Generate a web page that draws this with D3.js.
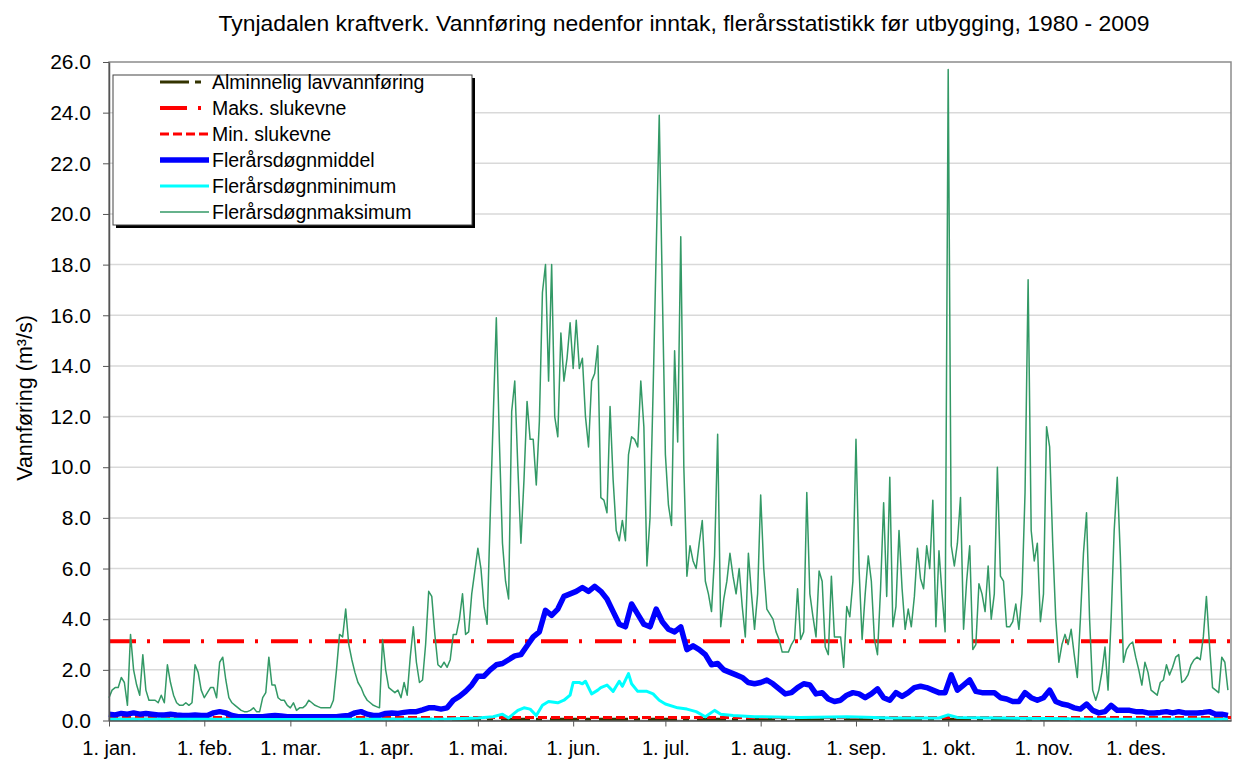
<!DOCTYPE html>
<html>
<head>
<meta charset="utf-8">
<script src="https://cdn.jsdelivr.net/npm/d3@7"></script>
<style>
  body { margin: 0; background: #fff; }
  text { font-family: Arial, "Liberation Sans", sans-serif; fill: #000; }
</style>
</head>
<body>
<svg id="chart" width="1233" height="760"></svg>
<script>
const title = 'Tynjadalen kraftverk. Vannføring nedenfor inntak, flerårsstatistikk før utbygging, 1980 - 2009';
const yLabel = 'Vannføring (m³/s)';

const monthLabels = ['1. jan.', '1. feb.', '1. mar.', '1. apr.', '1. mai.', '1. jun.',
  '1. jul.', '1. aug.', '1. sep.', '1. okt.', '1. nov.', '1. des.'];
const monthStarts = [0, 31, 59, 90, 120, 151, 181, 212, 243, 273, 304, 334];
const yTicks = [0, 2, 4, 6, 8, 10, 12, 14, 16, 18, 20, 22, 24, 26];

// constant levels (m3/s)
const lavvannforing = 0.05;
const maksSlukevne = 3.13;
const minSlukevne = 0.12;

// Flerårsdøgnmaksimum, one value per day
const dailyMax = [
  // jan
  0.9, 1.2, 1.3, 1.3, 1.7, 1.5, 0.6, 3.4, 2.0, 1.4, 1.0, 2.6, 1.2, 0.8, 0.8, 0.8, 0.7, 1.0, 0.7, 2.2, 1.5, 1.0, 0.7, 0.6, 0.6, 0.7, 0.6, 0.7, 2.2, 1.9, 1.2,
  // feb
  0.9, 1.1, 1.3, 1.3, 0.9, 2.3, 2.5, 1.6, 0.9, 0.7, 0.6, 0.5, 0.4, 0.35, 0.35, 0.4, 0.5, 0.35, 0.35, 0.9, 1.1, 2.5, 1.4, 1.4, 0.9, 0.8, 0.8, 0.6,
  // mar
  0.5, 0.7, 0.4, 0.5, 0.5, 0.6, 0.8, 0.7, 0.6, 0.55, 0.5, 0.5, 0.5, 0.5, 0.8, 2.0, 3.4, 3.3, 4.4, 3.0, 2.4, 1.9, 1.5, 1.3, 1.0, 0.8, 0.7, 0.6, 0.55, 0.5, 3.2,
  // apr
  2.0, 1.3, 1.2, 1.1, 1.2, 0.9, 1.5, 1.0, 2.5, 3.7, 2.3, 1.5, 1.6, 3.0, 5.1, 4.9, 3.4, 2.2, 2.1, 2.3, 2.1, 2.4, 3.4, 3.4, 4.0, 5.0, 3.4, 3.5, 5.0, 5.9,
  // mai
  6.8, 6.0, 4.5, 3.8, 8.0, 12.0, 15.9, 11.0, 7.0, 5.5, 4.8, 12.2, 13.4, 10.0, 7.0, 9.5, 12.6, 11.1, 11.1, 9.3, 11.8, 16.9, 18.0, 13.4, 18.0, 12.0, 11.2, 15.3, 13.4, 14.3, 15.7,
  // jun
  13.9, 15.8, 13.9, 14.3, 12.0, 10.8, 13.4, 13.7, 14.8, 8.8, 8.7, 8.2, 12.4, 9.5, 7.5, 7.1, 7.9, 7.1, 10.5, 11.2, 11.1, 10.8, 13.4, 11.6, 6.1, 8.0, 13.0, 18.5, 23.9, 17.0,
  // jul
  10.5, 8.5, 7.7, 14.6, 11.0, 19.1, 10.0, 5.7, 6.9, 6.3, 6.0, 7.0, 7.9, 5.5, 5.0, 4.3, 6.5, 11.3, 3.7, 4.8, 5.5, 6.6, 5.7, 5.0, 6.0, 4.5, 3.3, 6.6, 5.0, 3.6, 5.0,
  // aug
  8.9, 6.0, 4.4, 4.2, 4.0, 3.5, 3.2, 2.7, 2.7, 2.7, 3.0, 3.2, 5.2, 3.2, 3.5, 9.0, 5.0, 4.1, 3.3, 5.9, 5.5, 2.9, 2.6, 5.7, 3.3, 3.3, 3.3, 2.1, 4.5, 4.1, 5.5,
  // sep
  11.1, 6.0, 3.2, 5.0, 6.5, 5.5, 3.2, 2.6, 5.2, 8.6, 4.9, 9.6, 3.7, 4.5, 7.5, 5.2, 3.6, 4.4, 3.7, 4.9, 6.8, 5.6, 5.2, 6.9, 6.0, 8.7, 3.7, 6.7, 5.0, 3.5,
  // okt
  25.7, 6.9, 6.1, 7.0, 8.8, 3.6, 5.5, 6.9, 2.8, 3.0, 5.4, 5.0, 4.3, 6.1, 4.0, 5.0, 10.0, 5.7, 5.5, 3.7, 3.7, 3.9, 4.6, 3.6, 5.0, 9.0, 17.4, 7.5, 6.3, 7.0, 3.9,
  // nov
  5.0, 11.6, 10.8, 7.0, 4.0, 2.3, 3.0, 3.4, 3.0, 3.6, 2.6, 1.7, 4.0, 6.6, 8.2, 4.0, 1.2, 0.8, 1.2, 1.9, 2.9, 1.2, 4.0, 7.5, 9.6, 6.5, 2.3, 2.8, 3.0, 3.1,
  // des
  2.5, 2.0, 1.4, 2.3, 1.9, 1.2, 1.1, 1.0, 1.5, 1.6, 2.2, 1.8, 2.1, 2.5, 2.6, 1.5, 1.6, 1.8, 2.2, 2.4, 2.5, 2.4, 3.3, 4.9, 3.0, 1.3, 1.2, 1.1, 2.5, 2.3, 1.2
];

// Flerårsdøgnmiddel, read every second day (day 0, 2, 4 ... 364)
const meanEveryOtherDay = [
  0.25, 0.22, 0.28, 0.25, 0.3, 0.25, 0.28, 0.25, 0.22, 0.22, 0.25, 0.22, 0.2, 0.2, 0.22, 0.2,
  0.2, 0.3, 0.35, 0.3, 0.2, 0.15, 0.15, 0.15, 0.15, 0.15, 0.18, 0.2, 0.18, 0.15,
  0.15, 0.15, 0.15, 0.15, 0.15, 0.15, 0.15, 0.15, 0.18, 0.2, 0.3, 0.35, 0.25, 0.2, 0.2,
  0.28, 0.3, 0.28, 0.32, 0.35, 0.35, 0.42, 0.5, 0.5, 0.45, 0.5, 0.8, 0.95, 1.15, 1.4,
  1.75, 1.75, 2.0, 2.2, 2.25, 2.4, 2.55, 2.6, 2.95, 3.3, 3.5, 4.35, 4.15, 4.4, 4.9, 5.0,
  5.1, 5.25, 5.1, 5.3, 5.1, 4.8, 4.3, 3.8, 3.7, 4.6, 4.2, 3.8, 3.7, 4.4, 3.9,
  3.6, 3.5, 3.7, 2.8, 2.95, 2.8, 2.6, 2.2, 2.25, 2.0, 1.9, 1.8, 1.7, 1.5, 1.45,
  1.5, 1.6, 1.45, 1.25, 1.05, 1.1, 1.3, 1.45, 1.4, 1.05, 1.1, 0.85, 0.75, 0.8, 1.0, 1.1,
  1.05, 0.9, 1.05, 1.25, 0.9, 0.8, 1.1, 0.95, 1.1, 1.3, 1.35, 1.3, 1.2, 1.1, 1.1,
  1.8, 1.2, 1.4, 1.6, 1.15, 1.1, 1.1, 1.1, 0.9, 0.85, 0.75, 0.75, 1.1, 0.9, 0.8,
  0.9, 1.2, 0.75, 0.65, 0.6, 0.5, 0.45, 0.65, 0.4, 0.3, 0.35, 0.6, 0.4, 0.4, 0.4, 0.35,
  0.35, 0.3, 0.3, 0.32, 0.35, 0.3, 0.35, 0.3, 0.3, 0.3, 0.32, 0.35, 0.25, 0.25, 0.2
];

// Flerårsdøgnminimum, read at these days
const minDays = [0, 30, 60, 90, 110, 120, 125, 128, 130, 133, 135, 137, 139, 141, 143, 146, 148, 150, 151, 153,
  154, 155, 157, 159, 160, 162, 164, 165, 166, 167, 169, 170, 172, 175, 177, 179, 181, 185, 188, 191,
  194, 197, 199, 203, 210, 225, 240, 255, 270, 273, 276, 290, 305, 320, 340, 364];
const minValues = [0.05, 0.05, 0.04, 0.05, 0.06, 0.1, 0.15, 0.25, 0.1, 0.4, 0.5, 0.45, 0.2, 0.6, 0.75, 0.7, 0.8, 1.0, 1.5, 1.5,
  1.45, 1.55, 1.05, 1.2, 1.3, 1.4, 1.15, 1.35, 1.55, 1.35, 1.85, 1.45, 1.15, 1.15, 1.05, 0.8, 0.65, 0.5, 0.45, 0.35,
  0.15, 0.4, 0.25, 0.2, 0.15, 0.12, 0.15, 0.1, 0.1, 0.22, 0.12, 0.1, 0.08, 0.05, 0.05, 0.05];

const legendItems = [
  { name: 'Alminnelig lavvannføring', color: '#333300', width: 3, dash: '29,6,6,8' },
  { name: 'Maks. slukevne', color: '#ff0000', width: 4, dash: '27,11,3,13' },
  { name: 'Min. slukevne', color: '#ff0000', width: 3, dash: '9,4' },
  { name: 'Flerårsdøgnmiddel', color: '#0000ff', width: 5.5, dash: null },
  { name: 'Flerårsdøgnminimum', color: '#00ffff', width: 3, dash: null },
  { name: 'Flerårsdøgnmaksimum', color: '#339966', width: 1.5, dash: null },
];

function drawChart() {
  const svg = d3.select('#chart');
  const x = d3.scaleLinear().domain([0, 365]).range([109, 1231]);
  const y = d3.scaleLinear().domain([0, 26]).range([720.5, 62]);

  svg.append('rect').attr('width', 1233).attr('height', 760).attr('fill', '#fff');

  // gridlines
  svg.append('g')
    .selectAll('line')
    .data(yTicks.filter((d) => d > 0 && d < 26))
    .enter()
    .append('line')
    .attr('x1', x(0))
    .attr('x2', x(365))
    .attr('y1', (d) => y(d))
    .attr('y2', (d) => y(d))
    .attr('stroke', '#d9d9d9')
    .attr('stroke-width', 1.5);

  // plot frame
  svg.append('rect')
    .attr('x', x(0))
    .attr('y', y(26))
    .attr('width', x(365) - x(0))
    .attr('height', y(0) - y(26))
    .attr('fill', 'none')
    .attr('stroke', '#8c8c8c')
    .attr('stroke-width', 1.5);

  const line = d3.line().x((d) => x(d.day)).y((d) => y(d.value));

  const series = [
    { key: 0, points: [{ day: 0, value: lavvannforing }, { day: 365, value: lavvannforing }] },
    { key: 1, points: [{ day: 0, value: maksSlukevne }, { day: 365, value: maksSlukevne }] },
    { key: 2, points: [{ day: 0, value: minSlukevne }, { day: 365, value: minSlukevne }] },
    { key: 3, points: meanEveryOtherDay.map((v, i) => ({ day: i * 2, value: v })) },
    { key: 4, points: minDays.map((d, i) => ({ day: d, value: minValues[i] })) },
    { key: 5, points: dailyMax.map((v, i) => ({ day: i, value: v })) },
  ];

  svg.append('g')
    .selectAll('path')
    .data(series)
    .enter()
    .append('path')
    .attr('d', (d) => line(d.points))
    .attr('fill', 'none')
    .attr('stroke', (d) => legendItems[d.key].color)
    .attr('stroke-width', (d) => legendItems[d.key].width)
    .attr('stroke-dasharray', (d) => legendItems[d.key].dash)
    .attr('stroke-linejoin', 'round');

  // axes
  const yAxis = svg.append('g')
    .attr('transform', `translate(${x(0)},0)`)
    .call(d3.axisLeft(y).tickValues(yTicks).tickFormat(d3.format('.1f')).tickSize(6).tickSizeOuter(0).tickPadding(12));
  const xAxis = svg.append('g')
    .attr('transform', `translate(0,${y(0)})`)
    .call(d3.axisBottom(x).tickValues(monthStarts).tickFormat((d, i) => monthLabels[i]).tickSize(6).tickSizeOuter(0).tickPadding(14));

  [yAxis, xAxis].forEach((ax) => {
    ax.select('.domain').attr('stroke', '#555').attr('stroke-width', 1.5);
    ax.selectAll('.tick line').attr('stroke', '#555');
    ax.selectAll('.tick text').attr('font-family', 'Arial, "Liberation Sans", sans-serif').attr('fill', '#000');
  });
  yAxis.selectAll('.tick text').attr('font-size', 21);
  xAxis.selectAll('.tick text').attr('font-size', 20);

  // titles
  svg.append('text')
    .text(title)
    .attr('x', 684)
    .attr('y', 31)
    .attr('text-anchor', 'middle')
    .attr('font-size', 22.9);

  svg.append('text')
    .text(yLabel)
    .attr('text-anchor', 'middle')
    .attr('font-size', 21.5)
    .attr('transform', 'translate(32, 398) rotate(-90)');

  // legend
  const legend = svg.append('g').attr('transform', 'translate(113, 75)');
  legend.append('rect').attr('x', 3).attr('y', 3).attr('width', 359).attr('height', 150).attr('fill', '#000');
  legend.append('rect').attr('width', 359).attr('height', 150).attr('fill', '#fff').attr('stroke', '#444').attr('stroke-width', 1);

  const row = legend.selectAll('g.row')
    .data(legendItems)
    .enter()
    .append('g')
    .classed('row', true)
    .attr('transform', (d, i) => `translate(0, ${7 + i * 26})`);

  row.append('line')
    .attr('x1', 47)
    .attr('x2', 96)
    .attr('stroke', (d) => d.color)
    .attr('stroke-width', (d) => d.width)
    .attr('stroke-dasharray', (d) => d.dash);

  row.append('text')
    .text((d) => d.name)
    .attr('x', 99)
    .attr('y', 7)
    .attr('font-size', 19.5);
}

drawChart();
</script>
</body>
</html>
